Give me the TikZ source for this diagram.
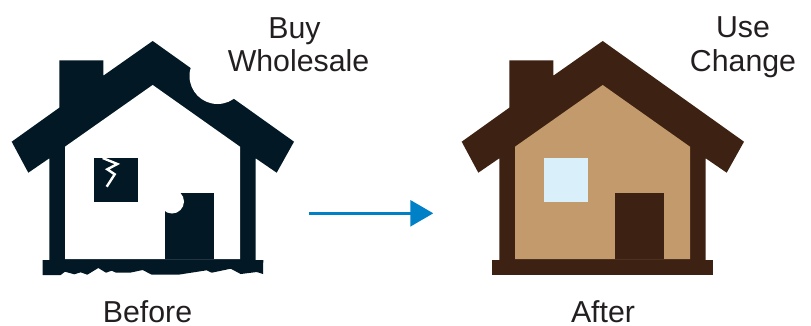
\documentclass[tikz,border=0pt]{standalone}
\usepackage{fontspec}
\setmainfont{Liberation Sans}
\usetikzlibrary{arrows.meta}
\definecolor{navy}{HTML}{021824}
\definecolor{bark}{HTML}{3D2213}
\definecolor{tan}{HTML}{C29A6B}
\definecolor{pane}{HTML}{D9F0FB}
\definecolor{flow}{HTML}{0080C6}
\definecolor{ink}{HTML}{231F20}
\tikzset{lbl/.style={text=ink,font=\fontsize{30.3}{34}\selectfont,align=center,inner sep=0pt,anchor=base}}
\newcommand{\housebody}[3]{
\fill[#1] (152.7,41) -- (294,141.7) -- (276.7,172.7) -- (255.7,158.3) -- (255.7,261) -- (49.3,261) -- (49.3,158.3) -- (28.3,172.7) -- (11.7,141.7) -- (59.3,107.7) -- (59.3,60.3) -- (103.3,60.3) -- (103.3,75.7) -- cycle;
\fill[#2] (152.7,85) -- (240,146.7) -- (240,259) -- (65,259) -- (65,146.7) -- cycle;
\fill[#1] (165,193.3) rectangle (213.7,259);
\fill[#3] (94,158) rectangle (138,202);
}
\begin{document}
\begin{tikzpicture}[x=1pt,y=-1pt]
\useasboundingbox (0,0) rectangle (811,325);
\housebody{navy}{white}{navy}
\fill[navy] (42.5,260) -- (263.3,260) -- (263,274) -- (256.7,272) -- (240.7,274) -- (230.7,268.7) -- (211.7,272.7) -- (206.7,270.3) -- (178.3,274.7) -- (151.7,274.7) -- (142.7,270) -- (130,272.7) -- (116,272.7) -- (111.7,270.7) -- (106,272.7) -- (98.3,268) -- (87.3,274.7) -- (80.7,272.3) -- (74.3,274.3) -- (65,271.7) -- (60.7,275) -- (42.5,275) -- cycle;
\fill[white] (217.5,76) circle (28);
\fill[white] (172,201.5) circle (12);
\draw[white,line width=2.4pt] (102.7,158) -- (117.3,164) -- (107.3,169.3) -- (114.7,174.3) -- (106.7,186.7);
\begin{scope}[xshift=450pt]
\housebody{bark}{tan}{pane}
\fill[bark] (42.3,260) rectangle (262.7,275);
\end{scope}
\coordinate (start) at (309,213.3);
\coordinate (end) at (433.3,213.3);
\draw[flow,line width=2.7pt,-{Triangle[length=23pt,width=26pt]}] (start) -- (end);
\node[lbl] (buy) at (298.5,71) {Buy\kern8pt\\[-1pt]Wholesale};
\node[lbl] (use) at (743,71) {Use\\Change};
\node[lbl] (before) at (147.5,322) {Before};
\node[lbl] (after) at (603,322) {After};
\end{tikzpicture}
\end{document}
